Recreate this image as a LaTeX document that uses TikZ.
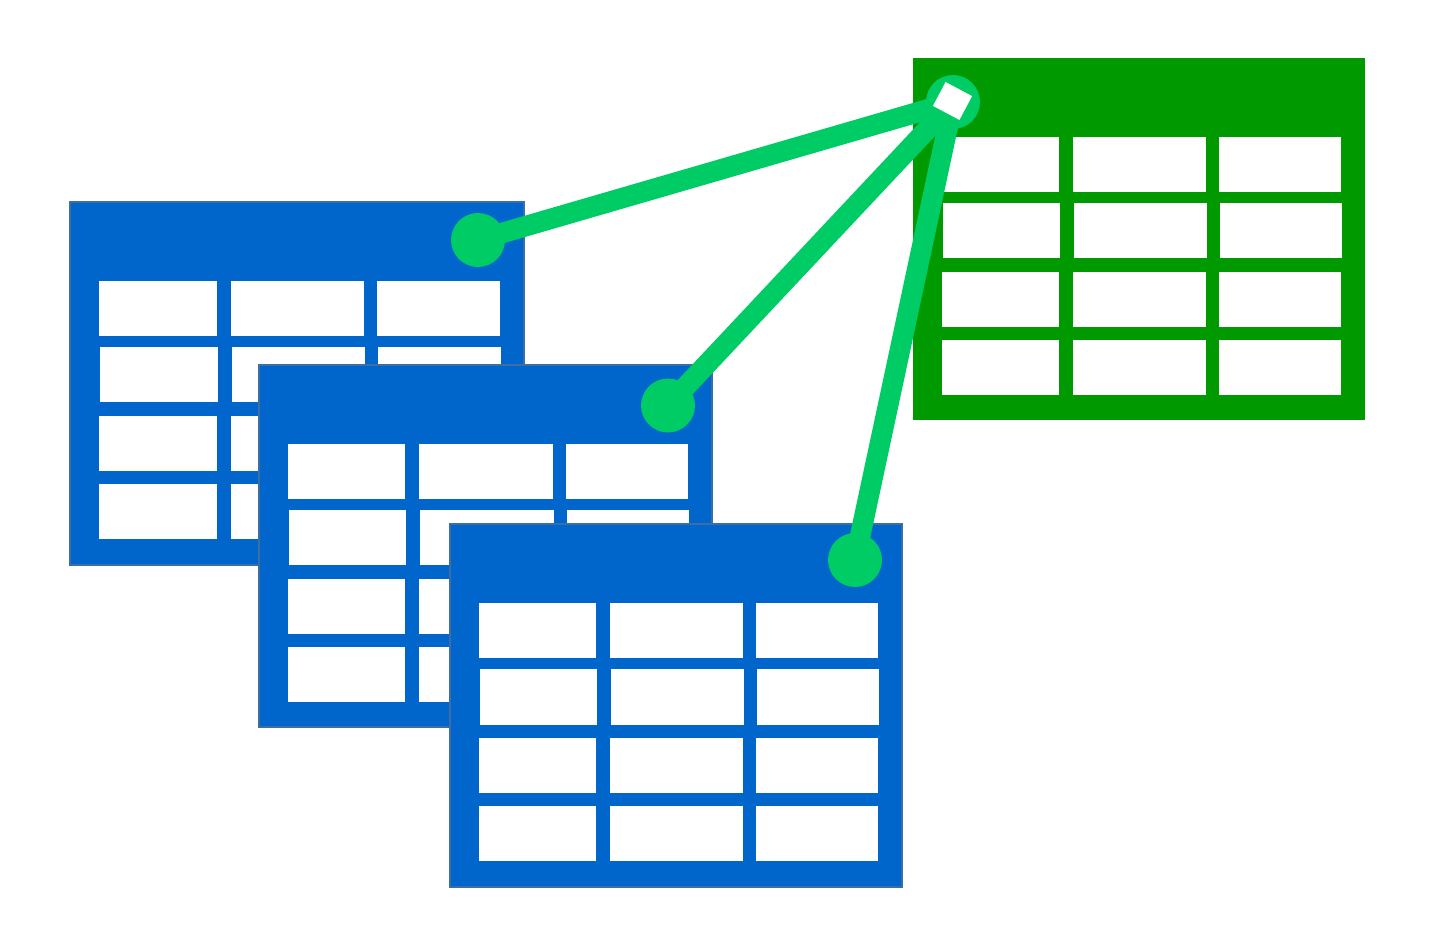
\documentclass[tikz,border=0pt]{standalone}
\definecolor{tableblue}{HTML}{0066CC}
\definecolor{tableedge}{HTML}{3A6EA5}
\definecolor{tablegreen}{HTML}{009900}
\definecolor{linkgreen}{HTML}{00CC66}
\tikzset{
  endpoint/.style={circle,fill=linkgreen,inner sep=0pt,minimum size=1.08cm},
  link/.style={draw=linkgreen,line width=0.41cm},
  keybox/.style={fill=white,inner sep=0pt,minimum width=0.6cm,minimum height=0.54cm,rotate=-28}
}
% #1 fill, #2 edge, #3 left, #4 top, #5 width, #6 height
\newcommand{\tablesheet}[6]{
  \draw[fill=#1,draw=#2,line width=0.04cm] (#3,#4) rectangle ++(#5,#6);
  \foreach \rowtop/\rowshift in {79/0,145.5/1,214/0,282/0}
    \foreach \colleft/\colwidth in {29/117,160/133,306/122}
      \fill[white] ({#3+\colleft/452*#5+\rowshift},{#4+\rowtop}) rectangle ++({\colwidth/452*#5},55);
}
\begin{document}
\begin{tikzpicture}[x=0.02cm,y=-0.02cm]

      \useasboundingbox (0,0) rectangle (1451,945);

      \tablesheet{tablegreen}{none}{913}{58}{452}{362} % target
      \tablesheet{tableblue}{tableedge}{70}{202}{454}{363} % source 1
      \tablesheet{tableblue}{tableedge}{259}{365}{453}{362} % source 2
      \tablesheet{tableblue}{tableedge}{450}{524}{452}{363} % source 3

      \node[endpoint] (hub) at (953,102) {};
      \node[endpoint] (dota) at (478,240) {};
      \node[endpoint] (dotb) at (668,405.5) {};
      \node[endpoint] (dotc) at (855,560) {};

      \foreach \dot in {dota,dotb,dotc}
      \draw[link] (hub.center) -- (\dot.center);

      \node[keybox] (key) at (952.5,101) {};

    \end{tikzpicture}
\end{document}
